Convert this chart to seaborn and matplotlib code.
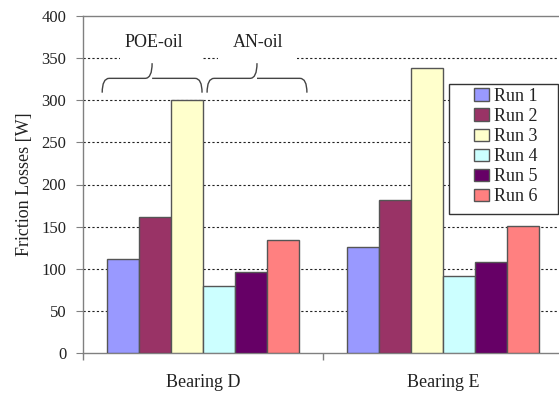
import matplotlib
matplotlib.use("Agg")
import matplotlib.pyplot as plt
from matplotlib.path import Path
from matplotlib.patches import PathPatch, Rectangle
import numpy as np
import pandas as pd
import seaborn as sns

# Friction losses per bearing and run
bearings = ["Bearing D", "Bearing E"]
runs = ["Run 1", "Run 2", "Run 3", "Run 4", "Run 5", "Run 6"]
bearing_d = [111, 162, 300, 80, 96, 134]
bearing_e = [126, 182, 338, 91, 108, 151]
run_colors = ["#9999FF", "#993366", "#FFFFCC", "#CCFFFF", "#660066", "#FF8080"]
y_ticks = [0, 50, 100, 150, 200, 250, 300, 350, 400]

df = pd.DataFrame({
    "bearing": np.repeat(bearings, len(runs)),
    "run": runs * len(bearings),
    "loss": bearing_d + bearing_e,
})

sns.set_theme(style="white")
plt.rcParams["font.family"] = ["Liberation Serif", "DejaVu Serif"]
text_color = "#222222"
spine_color = "#808080"

fig = plt.figure(figsize=(5.59, 3.94), dpi=100)
ax = fig.add_axes([83 / 559, 41 / 394, 480 / 559, 337 / 394])

sns.barplot(data=df, x="bearing", y="loss", hue="run", palette=run_colors,
            saturation=1, width=0.8, edgecolor="#555555", linewidth=1.0,
            ax=ax, legend=True, zorder=3)

ax.set_xlim(-0.5, 1.5)
ax.set_ylim(0, 400)
ax.set_yticks(y_ticks)
ax.tick_params(axis="y", direction="out", length=5, width=0.8, color=spine_color,
               labelsize=12, labelcolor=text_color, pad=7, left=True)

# Category labels sit between separator ticks
ax.set_xticks([-0.5, 0.5, 1.5])
ax.set_xticklabels(["", "", ""])
ax.tick_params(axis="x", which="major", direction="out", length=5, width=1.0,
               color=spine_color, bottom=True)
ax.set_xticks([0, 1], minor=True)
ax.set_xticklabels(bearings, minor=True)
ax.tick_params(axis="x", which="minor", length=0, labelsize=13,
               labelcolor=text_color, pad=15)

ax.set_xlabel("")
ax.set_ylabel("Friction Losses [W]", fontsize=13, color=text_color, labelpad=6)

# Dotted gridlines for the interior ticks
for v in y_ticks[1:-1]:
    ax.axhline(v, color="#222222", linestyle=(0, (2, 2)), linewidth=0.8, zorder=1)
ax.grid(False)

for side in ["left", "bottom", "top", "right"]:
    ax.spines[side].set_color(spine_color)
    ax.spines[side].set_linewidth(1.0)
    ax.spines[side].set_visible(True)


def brace(ax, x0, x1, y_end, y_mid, y_tip):
    """Curly brace opening downward between x0 and x1."""
    xm = (x0 + x1) / 2
    r = (x1 - x0) * 0.07
    verts = [
        (x0, y_end), (x0, y_mid), (x0 + r, y_mid),
        (xm - r, y_mid),
        (xm, y_mid), (xm, y_tip),
        (xm, y_mid), (xm + r, y_mid),
        (x1 - r, y_mid),
        (x1, y_mid), (x1, y_end),
    ]
    codes = [Path.MOVETO, Path.CURVE3, Path.CURVE3,
             Path.LINETO,
             Path.CURVE3, Path.CURVE3,
             Path.MOVETO, Path.CURVE3,
             Path.LINETO,
             Path.CURVE3, Path.CURVE3]
    ax.add_patch(PathPatch(Path(verts, codes), facecolor="none",
                           edgecolor="#444444", linewidth=1.0, zorder=5))


# Oil-type group annotations with white backgrounds over the grid
ax.add_patch(Rectangle((-0.346, 346), 0.346, 40, facecolor="white",
                       edgecolor="none", zorder=2))
ax.add_patch(Rectangle((0.0625, 346), 0.33, 40, facecolor="white",
                       edgecolor="none", zorder=2))
ax.text(-0.204, 368, "POE-oil", ha="center", va="center", fontsize=13,
        color=text_color, zorder=6)
ax.text(0.229, 368, "AN-oil", ha="center", va="center", fontsize=13,
        color=text_color, zorder=6)
brace(ax, -0.42, -0.004, 309, 326, 344)
brace(ax, 0.017, 0.433, 309, 326, 344)

# Legend with a framed box
leg = ax.legend(loc="upper left", bbox_to_anchor=((474 - 83) / 480, (353 - 88) / 337),
                frameon=False, fontsize=13, handlelength=0.85, handleheight=0.7,
                handletextpad=0.25, labelspacing=0.17, borderpad=0, borderaxespad=0)
for t in leg.get_texts():
    t.set_color(text_color)
for h in leg.legend_handles:
    h.set_edgecolor("#555555")
    h.set_linewidth(1.0)
leg.set_zorder(8)
ax.add_patch(Rectangle(((449 - 83) / 480, (353 - 214) / 337), 109 / 480, 130 / 337,
                       transform=ax.transAxes, facecolor="white", edgecolor="#333333",
                       linewidth=1.0, zorder=7))

fig.savefig("out.png", dpi=100)
